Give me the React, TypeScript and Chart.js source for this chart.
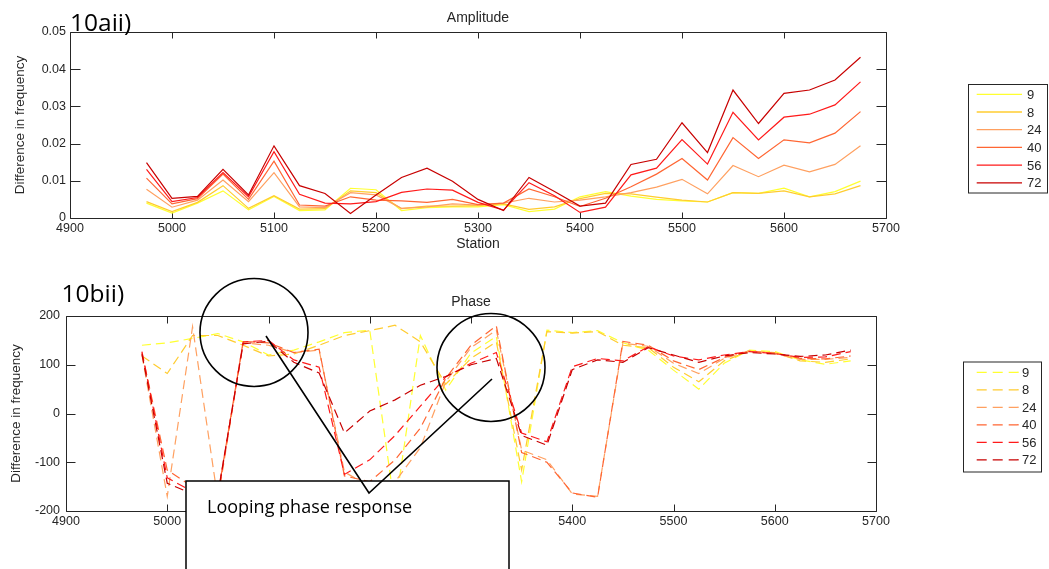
import React, { useEffect, useRef } from "react";
import { Chart, registerables } from "chart.js";

Chart.register(...registerables);

// ---------- data ----------
const stations = [4975, 5000, 5025, 5050, 5075, 5100, 5125, 5150, 5175, 5200, 5225, 5250, 5275, 5300, 5325, 5350, 5375, 5400, 5425, 5450, 5475, 5500, 5525, 5550, 5575, 5600, 5625, 5650, 5675];

const seriesNames = ["9", "8", "24", "40", "56", "72"];
const seriesColors = ["#ffff30", "#ffcc30", "#ffa060", "#ff6633", "#ff1a1a", "#c80000"];

const amp9 = [0.0040, 0.0013, 0.0040, 0.0073, 0.0022, 0.0058, 0.0020, 0.0022, 0.0080, 0.0076, 0.0020, 0.0028, 0.0030, 0.0030, 0.0036, 0.0017, 0.0024, 0.0057, 0.0071, 0.0059, 0.0050, 0.0046, 0.0043, 0.0068, 0.0066, 0.0080, 0.0057, 0.0071, 0.0099];
const amp8 = [0.0044, 0.0017, 0.0042, 0.0087, 0.0026, 0.0060, 0.0024, 0.0025, 0.0073, 0.0068, 0.0025, 0.0032, 0.0032, 0.0033, 0.0038, 0.0023, 0.0030, 0.0052, 0.0066, 0.0065, 0.0056, 0.0048, 0.0043, 0.0068, 0.0066, 0.0073, 0.0057, 0.0065, 0.0087];
const amp24 = [0.0077, 0.0029, 0.0048, 0.0102, 0.0044, 0.0122, 0.0030, 0.0028, 0.0068, 0.0062, 0.0026, 0.0030, 0.0038, 0.0035, 0.0040, 0.0053, 0.0043, 0.0048, 0.0057, 0.0068, 0.0083, 0.0104, 0.0065, 0.0141, 0.0111, 0.0142, 0.0124, 0.0144, 0.0194];
const amp40 = [0.0107, 0.0038, 0.0052, 0.0118, 0.0050, 0.0153, 0.0035, 0.0032, 0.0057, 0.0048, 0.0046, 0.0042, 0.0050, 0.0036, 0.0040, 0.0078, 0.0057, 0.0031, 0.0053, 0.0084, 0.0118, 0.0160, 0.0102, 0.0216, 0.0160, 0.0210, 0.0202, 0.0228, 0.0286];
const amp56 = [0.0131, 0.0044, 0.0055, 0.0122, 0.0057, 0.0178, 0.0064, 0.0040, 0.0038, 0.0044, 0.0069, 0.0078, 0.0075, 0.0042, 0.0021, 0.0095, 0.0060, 0.0015, 0.0029, 0.0116, 0.0134, 0.0211, 0.0145, 0.0284, 0.0210, 0.0271, 0.0279, 0.0304, 0.0366];
const amp72 = [0.0149, 0.0053, 0.0058, 0.0131, 0.0062, 0.0194, 0.0087, 0.0066, 0.0012, 0.0062, 0.0109, 0.0134, 0.0099, 0.0050, 0.0020, 0.0109, 0.0071, 0.0032, 0.0040, 0.0144, 0.0158, 0.0256, 0.0176, 0.0344, 0.0254, 0.0335, 0.0344, 0.0371, 0.0432];

const phase9 = [140, 145, 154, 164, 147, 120, 130, 147, 166, 171, -195, 160, 48, 124, 158, -140, 171, 166, 170, 145, 130, 89, 50, 103, 130, 127, 110, 101, 108];
const phase8 = [118, 82, 160, 160, 140, 118, 122, 140, 160, 170, 181, 147, 60, 113, 147, -116, 168, 165, 168, 140, 135, 95, 65, 108, 128, 125, 108, 105, 112];
const phase24 = [120, -170, 178, -177, 145, 140, 125, 130, -120, -150, -140, -70, 65, 135, 171, -75, -95, -165, -170, 144, 138, 103, 82, 113, 129, 123, 111, 111, 115];
const phase40 = [125, -116, -150, -167, 148, 145, 125, 132, -128, -140, -95, -30, 72, 140, 180, -80, -100, -163, -172, 148, 140, 108, 90, 115, 127, 124, 113, 112, 118];
const phase56 = [127, -132, -160, -170, 147, 150, 110, 95, -125, -95, -45, 15, 75, 103, 125, -40, -58, 96, 113, 108, 137, 118, 110, 120, 127, 123, 115, 116, 127];
const phase72 = [122, -143, -165, -165, 143, 148, 105, 83, -40, 5, 28, 58, 76, 100, 113, -45, -65, 90, 110, 105, 135, 120, 105, 118, 125, 122, 117, 120, 130];

const xTicks = [4900, 5000, 5100, 5200, 5300, 5400, 5500, 5600, 5700];
const ampTicks = [0, 0.01, 0.02, 0.03, 0.04, 0.05];
const phaseTicks = [-200, -100, 0, 100, 200];

const ampSeries = [amp9, amp8, amp24, amp40, amp56, amp72];
const phaseSeries = [phase9, phase8, phase24, phase40, phase56, phase72];

const AXIS = "#262626";
const FONT = "'Liberation Sans', Arial, sans-serif";
const DASH = [9, 5];

// ---------- plugin: MATLAB style box with inward ticks ----------
const boxPlugin = {
  id: "matlabBox",
  beforeDatasetsDraw(chart: any, _args: any, opts: any) {
    const { ctx, chartArea, scales } = chart;
    const { left, right, top, bottom } = chartArea;
    ctx.save();
    ctx.strokeStyle = AXIS;
    ctx.lineWidth = 1;
    ctx.beginPath();
    const l = Math.round(left) + 0.5, r = Math.round(right) + 0.5;
    const t = Math.round(top) + 0.5, b = Math.round(bottom) + 0.5;
    ctx.rect(l, t, r - l, b - t);
    for (const tk of scales.x.ticks) {
      const px = Math.round(scales.x.getPixelForValue(tk.value)) + 0.5;
      ctx.moveTo(px, b); ctx.lineTo(px, b - opts.xLen);
      ctx.moveTo(px, t); ctx.lineTo(px, t + opts.xLen);
    }
    for (const tk of scales.y.ticks) {
      const py = Math.round(scales.y.getPixelForValue(tk.value)) + 0.5;
      ctx.moveTo(l, py); ctx.lineTo(l + opts.yLen, py);
      ctx.moveTo(r, py); ctx.lineTo(r - opts.yLen, py);
    }
    ctx.stroke();
    ctx.restore();
  },
};

function makeConfig(kind: "amp" | "phase") {
  const isAmp = kind === "amp";
  const series = isAmp ? ampSeries : phaseSeries;
  const datasets = series.map((vals, i) => ({
    label: seriesNames[i],
    data: stations.map((s, j) => ({ x: s, y: vals[j] })),
    borderColor: seriesColors[i],
    backgroundColor: seriesColors[i],
    borderWidth: 1.2,
    borderDash: isAmp ? [] : DASH,
    pointRadius: 0,
    tension: 0,
    fill: false,
    order: series.length - i,
  }));
  const yTicks = isAmp ? ampTicks : phaseTicks;
  const titleFont = { family: FONT, size: 14 };
  return {
    type: "line" as const,
    data: { datasets },
    plugins: [boxPlugin],
    options: {
      animation: false,
      responsive: false,
      devicePixelRatio: 1,
      layout: { padding: { left: 0, top: 0, bottom: 0, right: isAmp ? 163 : 173 } },
      plugins: {
        legend: { display: false },
        tooltip: { enabled: false },
        title: {
          display: true,
          text: isAmp ? "Amplitude" : "Phase",
          fullSize: false,
          color: AXIS,
          font: { ...titleFont, weight: "normal" },
          padding: isAmp ? { top: 10, bottom: 5.2 } : { top: 23.5, bottom: 5.7 },
        },
        matlabBox: isAmp ? { xLen: 6, yLen: 10 } : { xLen: 7, yLen: 9 },
      },
      scales: {
        x: {
          type: "linear",
          min: 4900,
          max: 5700,
          afterBuildTicks: (sc: any) => { sc.ticks = xTicks.map((v) => ({ value: v })); },
          afterFit: (sc: any) => { sc.height = isAmp ? 44 : 58; },
          ticks: { color: AXIS, font: { family: FONT, size: 12.5 }, padding: 3, maxRotation: 0, autoSkip: false, callback: (v: any) => String(v) },
          grid: { display: false, drawTicks: false },
          border: { display: false },
          title: isAmp
            ? { display: true, text: "Station", color: AXIS, font: titleFont, padding: { top: 0, bottom: 9.6 } }
            : { display: false },
        },
        y: {
          type: "linear",
          min: yTicks[0],
          max: yTicks[yTicks.length - 1],
          afterBuildTicks: (sc: any) => { sc.ticks = yTicks.map((v) => ({ value: v })); },
          afterFit: (sc: any) => { sc.width = isAmp ? 70 : 66; },
          ticks: { color: AXIS, font: { family: FONT, size: 12.5 }, padding: isAmp ? 4 : 6, autoSkip: false, callback: (v: any) => String(v) },
          grid: { display: false, drawTicks: false },
          border: { display: false },
          title: {
            display: true,
            text: "Difference in frequency",
            color: AXIS,
            font: { family: FONT, size: 13.5 },
            padding: { top: isAmp ? 12.6 : 8.6, bottom: 0 },
          },
        },
      },
    },
  };
}

function ChartCanvas({ kind, top, height }: { kind: "amp" | "phase"; top: number; height: number }) {
  const ref = useRef<HTMLCanvasElement | null>(null);
  useEffect(() => {
    if (!ref.current) return;
    const chart = new Chart(ref.current, makeConfig(kind) as any);
    return () => chart.destroy();
  }, [kind]);
  return (
    <canvas
      ref={ref}
      width={1049}
      height={height}
      style={{ position: "absolute", left: 0, top, width: 1049, height }}
    />
  );
}

function Legend({ x, y, w, h, firstY, step, lineX1, lineX2, textX, dashed }: any) {
  return (
    <g>
      <rect x={x} y={y} width={w} height={h} fill="#fff" stroke={AXIS} strokeWidth={1} />
      {seriesNames.map((name, i) => {
        const cy = firstY + i * step;
        return (
          <g key={name}>
            <line x1={lineX1} x2={lineX2} y1={cy} y2={cy} stroke={seriesColors[i]} strokeWidth={1.3}
              strokeDasharray={dashed ? "10 6" : undefined} />
            <text x={textX} y={cy + 4.6} fontFamily={FONT} fontSize={13} fill={AXIS}>{name}</text>
          </g>
        );
      })}
    </g>
  );
}

export default function App() {
  return (
    <div style={{ position: "absolute", left: 0, top: 0, width: 1049, height: 569, overflow: "hidden", background: "#fff" }}>
      <ChartCanvas kind="amp" top={0} height={262} />
      <ChartCanvas kind="phase" top={270} height={299} />
      <svg width={1049} height={569} style={{ position: "absolute", left: 0, top: 0 }}>
        <text x={70} y={31} fontFamily="'Open Sans', sans-serif" fontSize={24.5} fill="#000">10aii)</text>
        <text x={61.5} y={301.5} fontFamily="'Open Sans', sans-serif" fontSize={24.5} fill="#000">10bii)</text>
        <Legend x={968.5} y={84.5} w={79} h={108.5} firstY={94.3} step={17.7} lineX1={976.7} lineX2={1022} textX={1027} dashed={false} />
        <Legend x={963.5} y={362} w={78} h={110} firstY={372.3} step={17.5} lineX1={976.7} lineX2={1019} textX={1022} dashed={true} />
        <circle cx={254} cy={332.5} r={54} fill="none" stroke="#000" strokeWidth={1.6} />
        <circle cx={491} cy={367.5} r={54} fill="none" stroke="#000" strokeWidth={1.6} />
        <rect x={186} y={481} width={323} height={120} fill="#fff" stroke="#000" strokeWidth={1.5} />
        <polyline points="266,336 369,493 492,379" fill="none" stroke="#000" strokeWidth={1.6} />
        <text x={207} y={513} fontFamily="'Open Sans', sans-serif" fontSize={18} fill="#000">Looping phase response</text>
      </svg>
    </div>
  );
}
